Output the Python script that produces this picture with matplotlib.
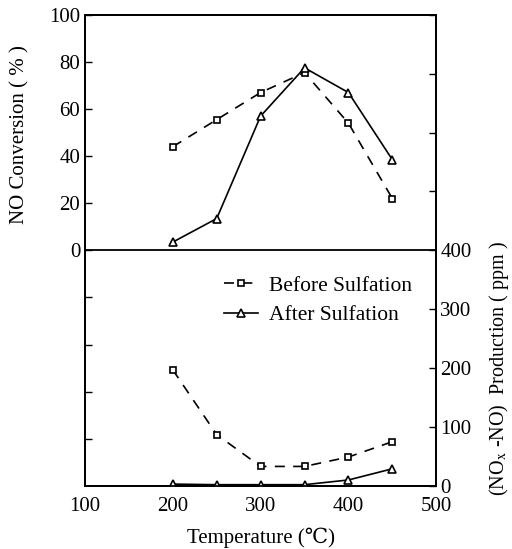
import matplotlib.pyplot as plt

plt.rcParams['font.family'] = ['Liberation Serif', 'DejaVu Serif']
plt.rcParams['mathtext.fontset'] = 'stix'

# data
temps = [200, 250, 300, 350, 400, 450]
conv_before = [44, 55.5, 67, 75.5, 54, 22]
conv_after = [3.5, 13.5, 57, 77.5, 67, 38.5]
prod_before = [197, 87, 33, 33, 49, 75]
prod_after = [3, 2, 2, 2, 10, 29]

left_ticks = [-80, -60, -40, -20, 0, 20, 40, 60, 80, 100]
left_labels = ['', '', '', '', '0', '20', '40', '60', '80', '100']
right_ticks = [0, 100, 200, 300, 400, 500, 600, 700, 800]
right_labels = ['0', '100', '200', '300', '400', '', '', '', '']
x_ticks = [100, 200, 300, 400, 500]

fig = plt.figure(figsize=(5.12, 5.49), dpi=100)
ax = fig.add_axes([0.166, 0.115, 0.686, 0.858])
ax2 = ax.twinx()

# Step 1: upper half - NO conversion on left axis
ax.plot(temps, conv_before, color='black', linestyle=(0, (6, 5)), linewidth=1.2,
        marker='s', markersize=4, markerfacecolor='white', markeredgewidth=1.2,
        label='Before Sulfation')
ax.plot(temps, conv_after, color='black', linestyle='-', linewidth=1.2,
        marker='^', markersize=6, markerfacecolor='white', markeredgewidth=1.2,
        label='After Sulfation')
ax.axhline(0, color='black', linewidth=1.3)

# Step 2: lower half - production on right axis
ax2.plot(temps, prod_before, color='black', linestyle=(0, (6, 5)), linewidth=1.2,
         marker='s', markersize=4, markerfacecolor='white', markeredgewidth=1.2)
ax2.plot(temps, prod_after, color='black', linestyle='-', linewidth=1.2,
         marker='^', markersize=6, markerfacecolor='white', markeredgewidth=1.2)

# Step 3: axes settings
ax.set_xlim(100, 500)
ax.set_ylim(-100, 100)
ax2.set_ylim(0, 800)
ax.set_xticks(x_ticks)
ax.set_yticks(left_ticks)
ax.set_yticklabels(left_labels)
ax2.set_yticks(right_ticks)
ax2.set_yticklabels(right_labels)

ax.tick_params(axis='y', direction='in', length=5, width=1, labelsize=15)
ax.tick_params(axis='x', direction='in', length=0, labelsize=15, pad=8)
ax2.tick_params(axis='y', direction='in', length=5, width=1, labelsize=15, pad=3)
for sp in list(ax.spines.values()) + list(ax2.spines.values()):
    sp.set_linewidth(1.3)

ax.set_ylabel('NO Conversion ( % )', fontsize=15)
ax.yaxis.set_label_coords(-0.158, 0.745)
ax2.set_ylabel(r'(NO$_\mathrm{x}$ -NO)  Production ( ppm )', fontsize=14.5, rotation=90)
ax2.yaxis.set_label_coords(1.145, 0.25)
ax.set_xlabel('Temperature (\u2103)', fontsize=15)
ax.xaxis.set_label_coords(0.5, -0.088)

ax.legend(loc='upper left', bbox_to_anchor=(0.37, 0.465), frameon=False,
          fontsize=15.5, handlelength=1.6, handletextpad=0.5, labelspacing=0.45,
          borderaxespad=0)

fig.savefig('out.png', dpi=100)
